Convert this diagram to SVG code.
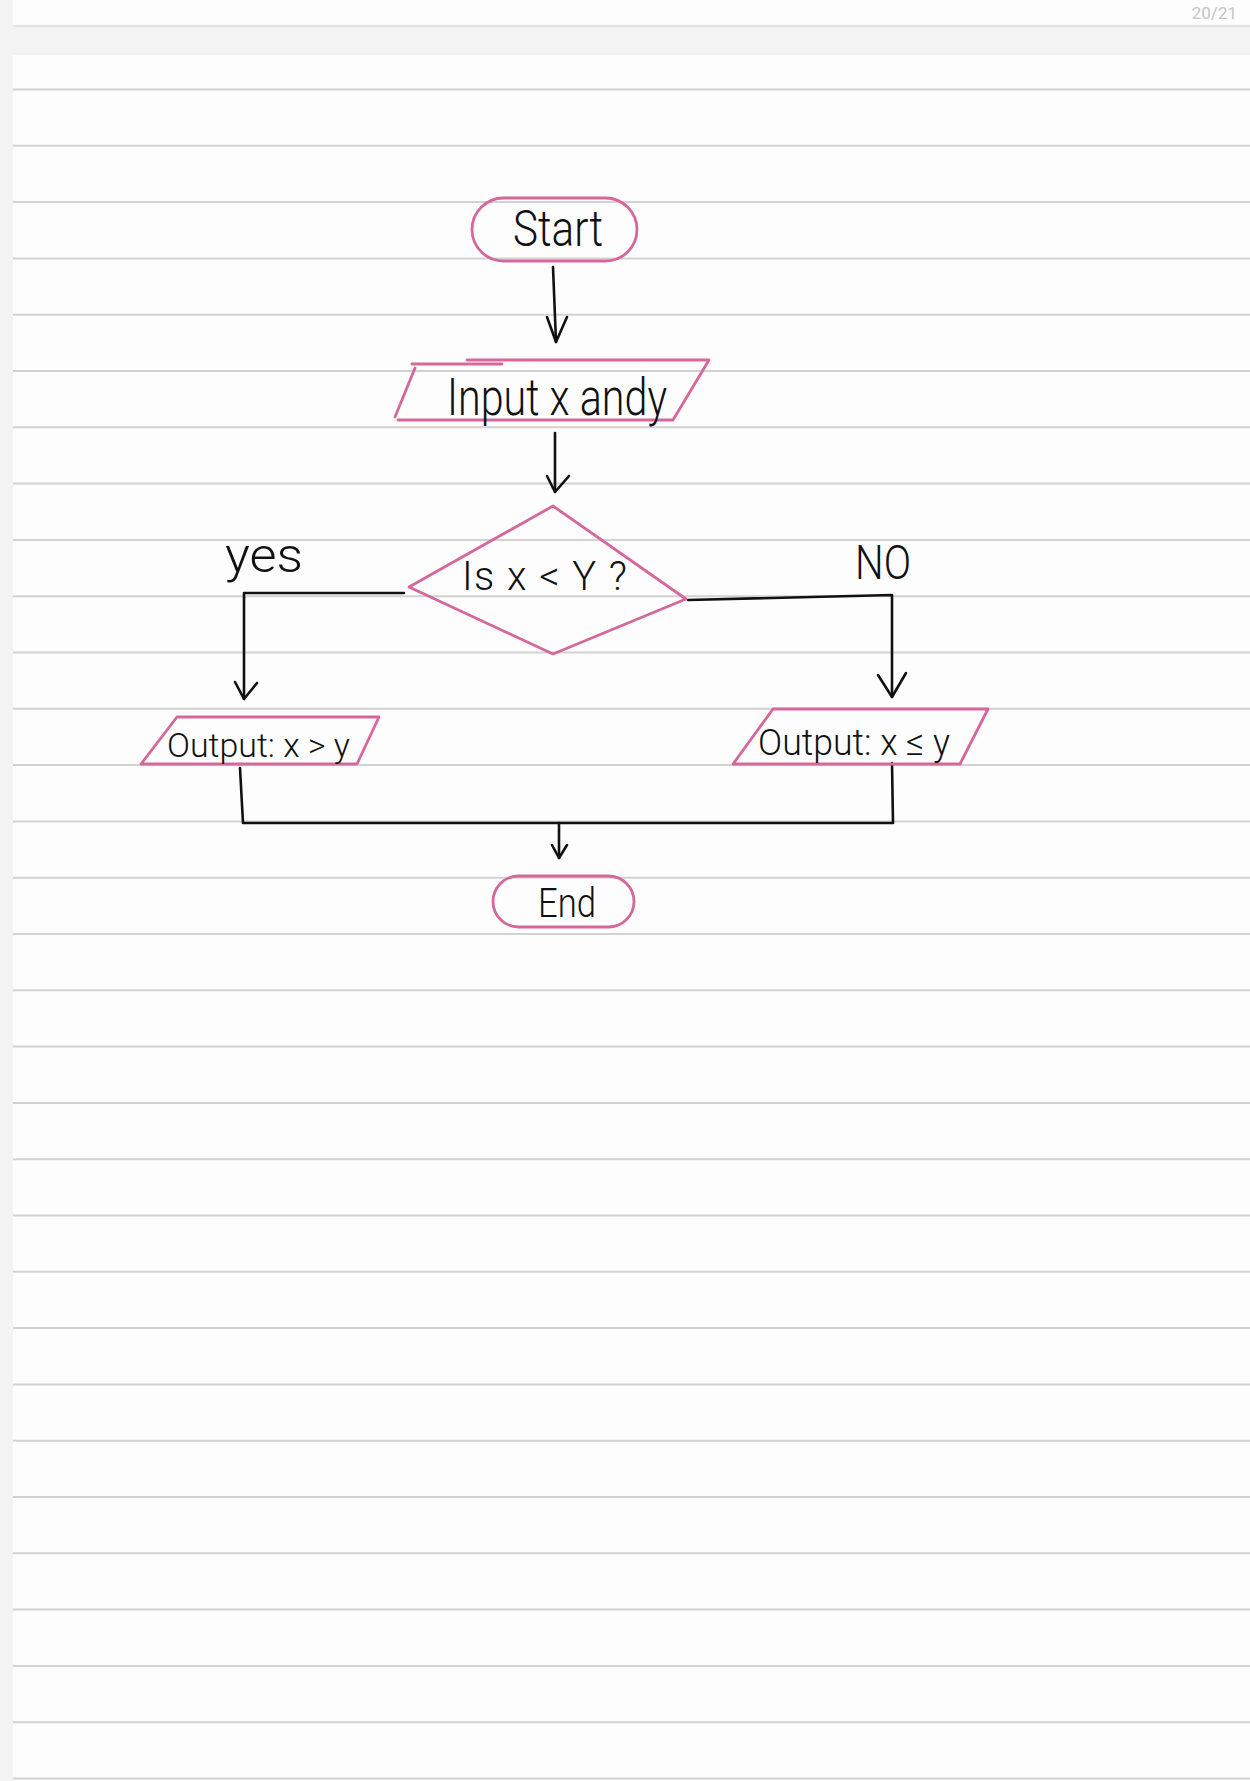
<svg xmlns="http://www.w3.org/2000/svg" width="1250" height="1781" viewBox="0 0 1250 1781">
  <defs>
    <style>
      .rule { stroke: #d2d2d2; stroke-width: 2; }
      .shape { fill: none; stroke: #d6679b; stroke-width: 2.8; stroke-linejoin: round; stroke-linecap: round; }
      .conn { fill: none; stroke: #111111; stroke-width: 2.6; stroke-linecap: round; stroke-linejoin: round; }
      .txt { font-family: Roboto, "Liberation Sans", "DejaVu Sans", sans-serif; font-weight: 300; fill: #111111; }
    </style>
  </defs>

  <!-- background -->
  <rect x="0" y="0" width="1250" height="1781" fill="#f3f3f3"/>
  <rect x="13" y="0" width="1237" height="26" fill="#fdfdfd"/>
  <line x1="13" y1="26" x2="1250" y2="26" stroke="#dedede" stroke-width="1.5"/>
  <rect x="13" y="54" width="1237" height="1727" fill="#fdfdfd"/>
  <line x1="13" y1="54" x2="1250" y2="54" stroke="#ececec" stroke-width="1.5"/>
  <text x="1237" y="19" text-anchor="end" font-family="Roboto, 'Liberation Sans', sans-serif" font-size="17" fill="#c4c4c4">20/21</text>

  <g id="rules">
    <line class="rule" x1="13" y1="89.5" x2="1250" y2="89.5"/>
    <line class="rule" x1="13" y1="145.8" x2="1250" y2="145.8"/>
    <line class="rule" x1="13" y1="202.1" x2="1250" y2="202.1"/>
    <line class="rule" x1="13" y1="258.4" x2="1250" y2="258.4"/>
    <line class="rule" x1="13" y1="314.7" x2="1250" y2="314.7"/>
    <line class="rule" x1="13" y1="371" x2="1250" y2="371"/>
    <line class="rule" x1="13" y1="427.3" x2="1250" y2="427.3"/>
    <line class="rule" x1="13" y1="483.6" x2="1250" y2="483.6"/>
    <line class="rule" x1="13" y1="539.9" x2="1250" y2="539.9"/>
    <line class="rule" x1="13" y1="596.2" x2="1250" y2="596.2"/>
    <line class="rule" x1="13" y1="652.5" x2="1250" y2="652.5"/>
    <line class="rule" x1="13" y1="708.8" x2="1250" y2="708.8"/>
    <line class="rule" x1="13" y1="765.1" x2="1250" y2="765.1"/>
    <line class="rule" x1="13" y1="821.4" x2="1250" y2="821.4"/>
    <line class="rule" x1="13" y1="877.7" x2="1250" y2="877.7"/>
    <line class="rule" x1="13" y1="934" x2="1250" y2="934"/>
    <line class="rule" x1="13" y1="990.3" x2="1250" y2="990.3"/>
    <line class="rule" x1="13" y1="1046.6" x2="1250" y2="1046.6"/>
    <line class="rule" x1="13" y1="1102.9" x2="1250" y2="1102.9"/>
    <line class="rule" x1="13" y1="1159.2" x2="1250" y2="1159.2"/>
    <line class="rule" x1="13" y1="1215.5" x2="1250" y2="1215.5"/>
    <line class="rule" x1="13" y1="1271.8" x2="1250" y2="1271.8"/>
    <line class="rule" x1="13" y1="1328.1" x2="1250" y2="1328.1"/>
    <line class="rule" x1="13" y1="1384.4" x2="1250" y2="1384.4"/>
    <line class="rule" x1="13" y1="1440.7" x2="1250" y2="1440.7"/>
    <line class="rule" x1="13" y1="1497" x2="1250" y2="1497"/>
    <line class="rule" x1="13" y1="1553.3" x2="1250" y2="1553.3"/>
    <line class="rule" x1="13" y1="1609.6" x2="1250" y2="1609.6"/>
    <line class="rule" x1="13" y1="1665.9" x2="1250" y2="1665.9"/>
    <line class="rule" x1="13" y1="1722.2" x2="1250" y2="1722.2"/>
    <line class="rule" x1="13" y1="1778.5" x2="1250" y2="1778.5"/>
  </g>

  <g id="connectors">
    <!-- Start -> Input -->
    <path class="conn" d="M553 267 L556 342"/>
    <path class="conn" d="M547 317 L556 342 L567 317"/>
    <!-- Input -> Decision -->
    <path class="conn" d="M555 433 L555 492"/>
    <path class="conn" d="M547 476 L555 492 L569 476"/>
    <!-- Decision -> yes -> Output left -->
    <path class="conn" d="M404 593 L244 593 L244 699"/>
    <path class="conn" d="M235 682 L244 699 L257 683"/>
    <!-- Decision -> no -> Output right -->
    <path class="conn" d="M688 600 L892 595 L892 697"/>
    <path class="conn" d="M878 675 L892 697 L906 673"/>
    <!-- merge to End -->
    <path class="conn" d="M240 768 L243 823 L893 823 L892 763"/>
    <path class="conn" d="M559 823 L559 858"/>
    <path class="conn" d="M552 845 L559 858 L567 845"/>
  </g>

  <g id="labels">
    <text class="txt" x="225" y="572" font-size="48" textLength="78" lengthAdjust="spacingAndGlyphs">yes</text>
    <text class="txt" x="855" y="579" font-size="48" textLength="56" lengthAdjust="spacingAndGlyphs">NO</text>
  </g>

  <g id="start">
    <rect class="shape" x="472" y="198" width="165" height="63" rx="31.5"/>
    <text class="txt" x="513" y="246" font-size="50" textLength="90" lengthAdjust="spacingAndGlyphs">Start</text>
  </g>

  <g id="input">
    <path class="shape" d="M467 360 L709 360 L673 420 L398 420"/>
    <path class="shape" d="M412 364 L502 364"/>
    <path class="shape" d="M415 368 L395 417"/>
    <text class="txt" x="447" y="415" font-size="52" textLength="220" lengthAdjust="spacingAndGlyphs">Input x andy</text>
  </g>

  <g id="decision">
    <polygon class="shape" points="553,506 686,599 553,654 409,587"/>
    <text class="txt" x="462" y="590" font-size="40" textLength="165" lengthAdjust="spacing">Is x &lt; Y ?</text>
  </g>

  <g id="output-yes">
    <polygon class="shape" points="177,717 379,717 357,764 141,764"/>
    <text class="txt" x="167" y="757" font-size="33" textLength="183" lengthAdjust="spacingAndGlyphs">Output: x &gt; y</text>
  </g>

  <g id="output-no">
    <polygon class="shape" points="773,709 988,709 960,764 733,764"/>
    <text class="txt" x="758" y="755" font-size="37" textLength="192" lengthAdjust="spacingAndGlyphs">Output: x ≤ y</text>
  </g>

  <g id="end">
    <rect class="shape" x="493" y="876" width="141" height="51" rx="25.5"/>
    <text class="txt" x="538" y="917" font-size="40" textLength="58" lengthAdjust="spacingAndGlyphs">End</text>
  </g>
</svg>
